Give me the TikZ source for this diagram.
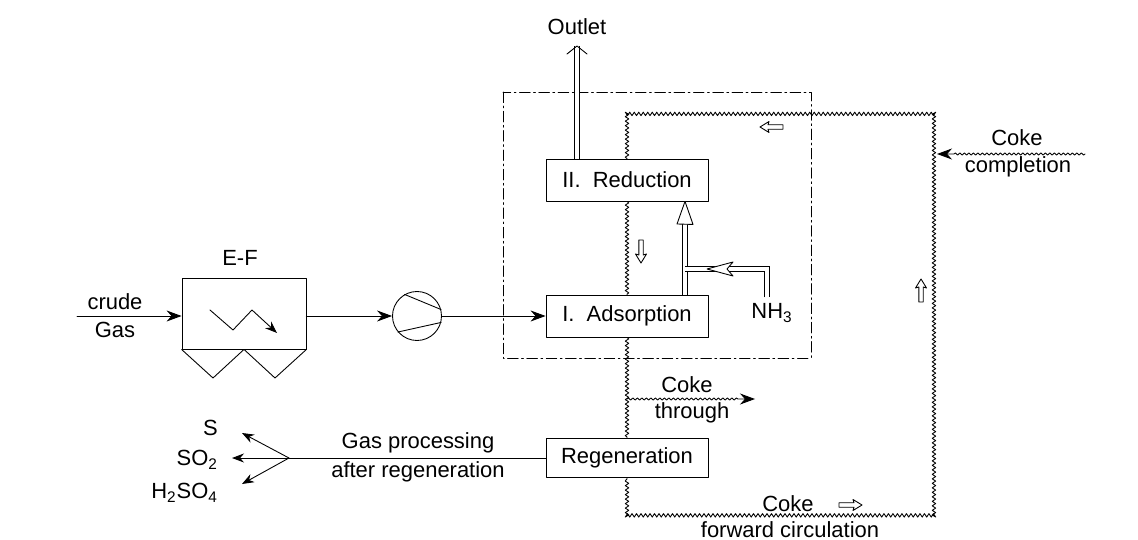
\documentclass[tikz,border=0pt]{standalone}
\usepackage{fontspec}
\setmainfont{Liberation Sans}
\usetikzlibrary{arrows.meta,decorations.pathmorphing,positioning}

\tikzset{
  unit/.style={draw, line width=0.5pt, minimum width=3.24cm, minimum height=0.84cm, inner sep=0pt},
  flow/.style={line width=0.5pt, -{Stealth[length=3mm,width=2.2mm]}},
  prod/.style={line width=0.5pt, -{Stealth[length=2.4mm,width=1.8mm]}},
  coke/.style={line width=0.5pt, decorate, decoration={snake, amplitude=0.35mm, segment length=0.9mm}},
  pipe/.style={line width=0.5pt, double, double distance=2pt, line cap=butt, line join=miter},
  ctrl/.style={line width=0.5pt, dash pattern=on 6pt off 2pt on 1pt off 2pt},
  flowmark/.pic={\draw[line width=0.5pt, fill=white] (0,0) -- (-9,-5.5) -- (-8,-2.2) -- (-23,-2.2) -- (-23,2.2) -- (-8,2.2) -- (-9,5.5) -- cycle;}
}

\begin{document}
\begin{tikzpicture}[x=0.02cm, y=-0.02cm, line cap=round, line join=round, font=\fontsize{12.5}{15}\selectfont]
\useasboundingbox (0,0) rectangle (1138,540);
% process units
\node[unit] (red) at (627,180) {II.\ \ Reduction};
\node[unit] (ads) at (627,316) {I.\ \ Adsorption};
\node[unit, minimum height=0.78cm] (reg) at (627,458) {Regeneration};
\node[draw, line width=0.5pt, minimum width=2.48cm, minimum height=1.42cm] (ef) at (244,313.5) {};
\node (eflbl) at (240,258) {E-F};
\node[draw, circle, line width=0.5pt, minimum size=0.98cm, inner sep=0pt] (comp) at (417,316) {};
\draw[line width=0.5pt] (comp.120) -- (comp.15) (comp.220) -- (comp.-15);
% filter hopper and inner zigzag
\draw[line width=0.5pt] (ef.south west) -- (213,378) -- (ef.south) -- (275,378) -- (ef.south east);
\draw[prod] (210,310) -- (233,330) -- (252,310) -- (277,333);
% crude gas line
\node (crude) at (115,302) {crude};
\node (gas) at (115,330) {Gas};
\coordinate (feed) at (77,316);
\draw[flow] (feed) -- (feed -| ef.west);
\draw[flow] (feed -| ef.east) -- (comp.west);
\draw[flow] (comp.east) -- (ads.west);
% control boundary
\draw[ctrl] (503,92) rectangle (811,358);
% coke loop
\coordinate (tl) at (627,113);
\coordinate (tr) at (937,113);
\coordinate (br) at (937,518);
\coordinate (bl) at (627,518);
\draw[coke] (red.north) -- (tl) -- (tr) -- (br) -- (bl) -- (reg.south);
\draw[coke] (red.south) -- (ads.north);
\draw[coke] (ads.south) -- (reg.north);
\pic at (760,127) [rotate=180] {flowmark};
\pic at (641,263) [rotate=-90] {flowmark};
\pic at (921,279) [rotate=90] {flowmark};
\pic at (862,505) {flowmark};
% coke through
\coordinate (thr) at (627,399);
\coordinate (thrend) at (755,399);
\draw[coke, decoration={amplitude=0.2mm, post length=3mm}, -{Stealth[length=3mm,width=2.2mm]}] (thr) -- (thrend);
\node (thrA) at (687,385) {Coke};
\node (thrB) at (692,413) {through};
% coke completion
\coordinate (cmpl) at (1085,154);
\draw[coke, decoration={amplitude=0.2mm, post length=3mm}, -{Stealth[length=3mm,width=2.2mm]}] (cmpl) -- (cmpl -| br);
\node (cmplA) at (1017,138) {Coke};
\node (cmplB) at (1018,167) {completion};
\node (fwdA) at (788,504) {Coke};
\node (fwdB) at (790,530) {forward circulation};
% outlet
\node (outlet) at (577,27) {Outlet};
\coordinate (outtip) at (577,46);
\draw[pipe] (red.north -| outtip) -- (outtip);
\draw[line width=0.5pt] (outtip) ++(-10,8) -- (outtip) -- ++(10,8);
% ammonia feed
\node (nh3) at (772,313) {NH\textsubscript{3}};
\coordinate (nhtop) at (767,269);
\coordinate (joint) at (685,269);
\coordinate (redin) at (685,224);
\draw[pipe] (ads.north -| redin) -- (redin);
\draw[pipe] (nh3.north -| nhtop) -- (nhtop) -- (joint);
\draw[line width=0.5pt, fill=white] (redin) ++(-8,0) -- (red.south -| redin) -- ++(8,23) -- cycle;
\draw[line width=0.5pt, fill=white] (707,269) -- (733,262) -- (727,269) -- (733,276) -- cycle;
% gas processing
\coordinate (fork) at (289,458);
\draw[line width=0.5pt] (reg.west) -- (fork);
\node (gpA) at (418,443) {Gas processing};
\node (gpB) at (418,472) {after regeneration};
\node[anchor=east] (s) at (224,428) {S};
\node[anchor=east] (so2) at (224,460) {SO\textsubscript{2}};
\node[anchor=east] (h2so4) at (224,493) {H\textsubscript{2}SO\textsubscript{4}};
\coordinate (sout) at (242,433);
\coordinate (so2out) at (232,458);
\coordinate (h2out) at (242,484);
\draw[prod] (fork) -- (sout);
\draw[prod] (fork) -- (so2out);
\draw[prod] (fork) -- (h2out);
\end{tikzpicture}
\end{document}
